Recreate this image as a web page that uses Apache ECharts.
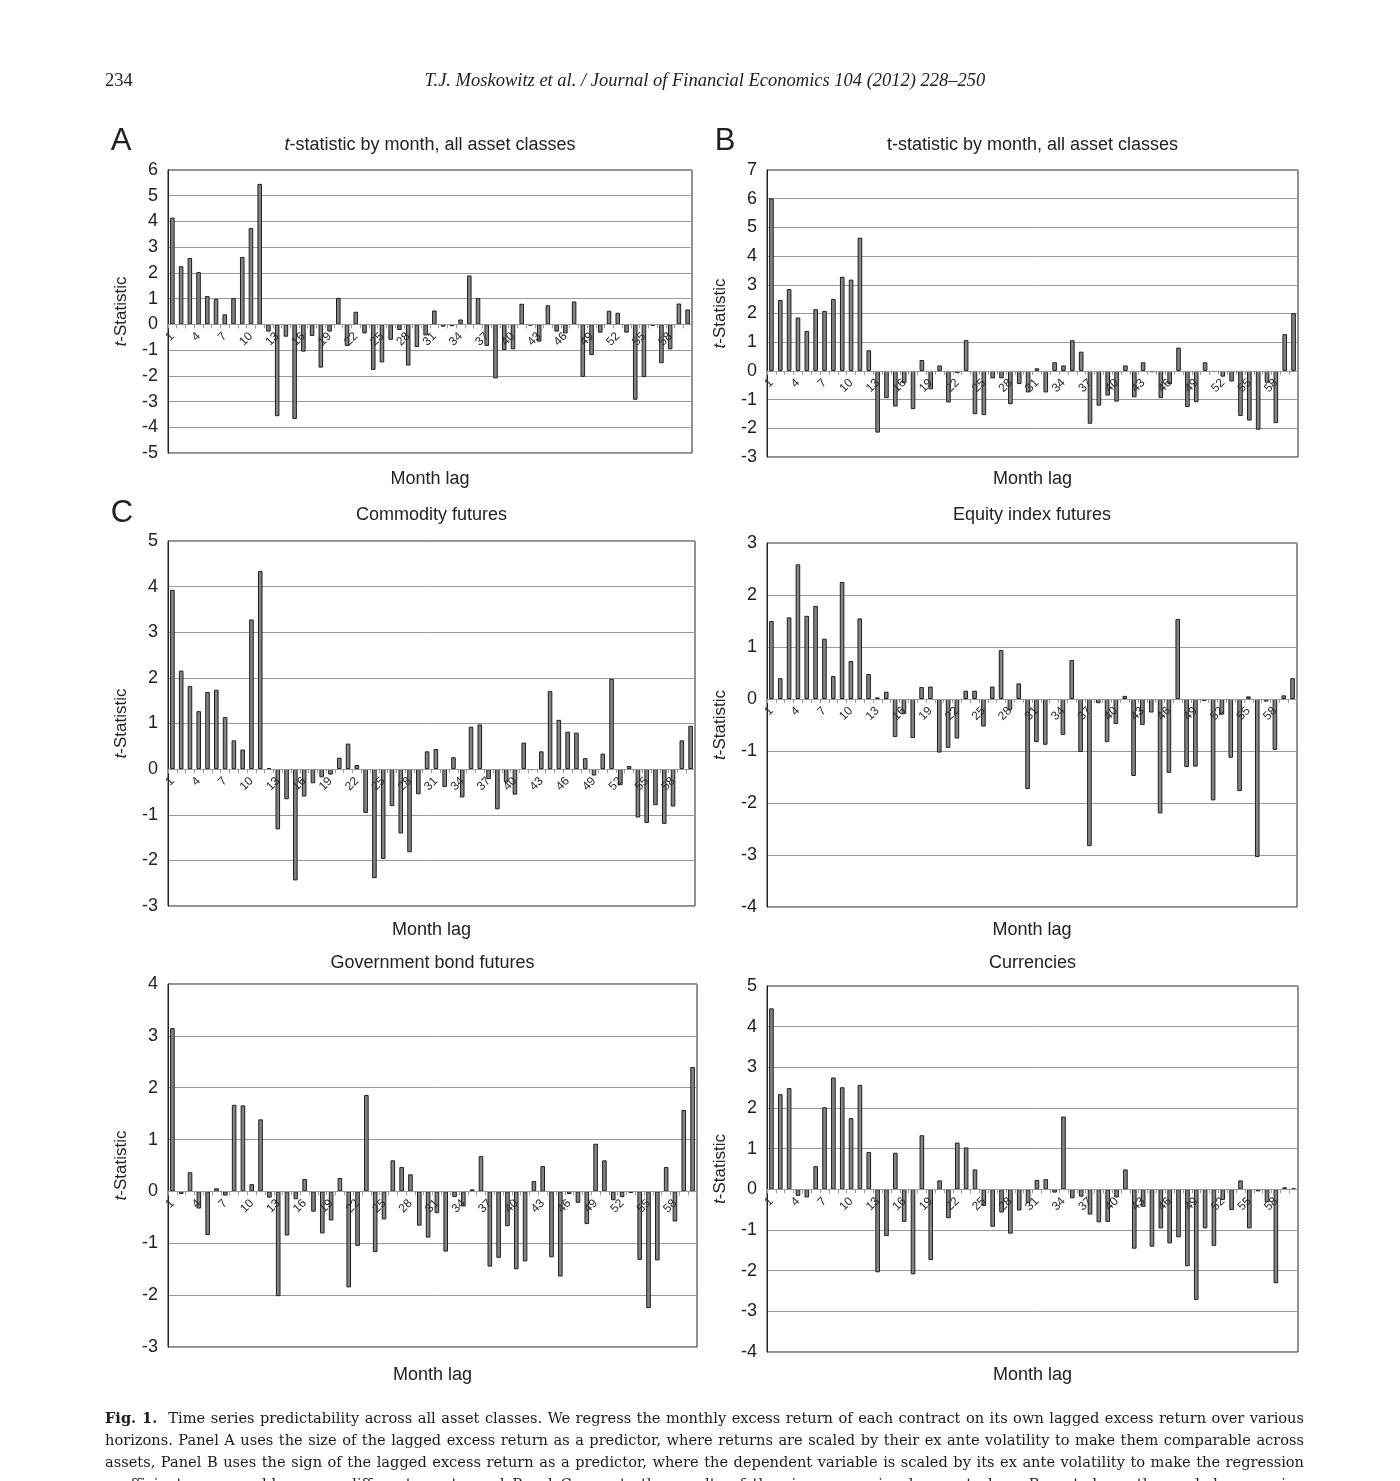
<!DOCTYPE html>
<html>
<head>
<meta charset="utf-8">
<script src="https://cdn.jsdelivr.net/npm/echarts@6/dist/echarts.min.js"></script>
<style>
  html, body { margin: 0; padding: 0; background: #fff; }
  body { width: 1400px; height: 1481px; overflow: hidden; position: relative; }
  #chart { position: absolute; left: 0; top: 0; width: 1400px; height: 1481px; }
  .hdr { position: absolute; top: 70px; font: 18.5px "Liberation Serif", serif; color: #222; }
  .caption { position: absolute; left: 105px; top: 1407px; width: 1199px;
    font: 14.6px "DejaVu Serif", serif; color: #1a1a1a; line-height: 22px; }
  .caption div { text-align: justify; text-align-last: justify; white-space: nowrap; }
</style>
</head>
<body>
<div id="chart"></div>
<div class="hdr" style="left:105px">234</div>
<div class="hdr" style="left:0;width:1410px;text-align:center;font-style:italic">T.J. Moskowitz et al. / Journal of Financial Economics 104 (2012) 228–250</div>
<div class="caption">
  <div><b>Fig. 1.</b>&nbsp; Time series predictability across all asset classes. We regress the monthly excess return of each contract on its own lagged excess return over various</div>
  <div>horizons. Panel A uses the size of the lagged excess return as a predictor, where returns are scaled by their ex ante volatility to make them comparable across</div>
  <div>assets, Panel B uses the sign of the lagged excess return as a predictor, where the dependent variable is scaled by its ex ante volatility to make the regression</div>
  <div>coefficients comparable across different assets, and Panel C reports the results of the sign regression by asset class. Reported are the pooled regression</div>
</div>
<script>
// month lags 1..60
const months = ['1','2','3','4','5','6','7','8','9','10','11','12','13','14','15','16','17','18','19','20',
  '21','22','23','24','25','26','27','28','29','30','31','32','33','34','35','36','37','38','39','40',
  '41','42','43','44','45','46','47','48','49','50','51','52','53','54','55','56','57','58','59','60'];

// Panel A: size of lagged return
const allSize = [4.15, 2.26, 2.58, 2.03, 1.10, 0.99, 0.39, 1.02, 2.62, 3.74, 5.46, -0.28,
  -3.57, -0.48, -3.68, -1.06, -0.45, -1.68, -0.28, 1.03, -0.84, 0.49, -0.35, -1.77,
  -1.48, -0.6, -0.22, -1.6, -0.88, -0.43, 0.54, -0.09, -0.07, 0.19, 1.9, 1.02,
  -0.84, -2.1, -1.0, -0.97, 0.8, -0.05, -0.67, 0.74, -0.28, -0.35, 0.89, -2.04,
  -1.19, -0.32, 0.53, 0.45, -0.32, -2.93, -2.05, -0.06, -1.51, -0.97, 0.81, 0.58];

// Panel B: sign of lagged return
const allSign = [6.01, 2.47, 2.85, 1.86, 1.39, 2.15, 2.09, 2.51, 3.28, 3.18, 4.64, 0.72,
  -2.15, -0.95, -1.24, -0.43, -1.33, 0.38, -0.64, 0.19, -1.1, -0.08, 1.07, -1.51,
  -1.54, -0.26, -0.26, -1.16, -0.46, -0.75, 0.09, -0.75, 0.3, 0.19, 1.07, 0.67,
  -1.84, -1.21, -0.86, -1.07, 0.19, -0.92, 0.3, -0.05, -0.95, -0.46, 0.81, -1.26,
  -1.09, 0.3, -0.04, -0.2, -0.37, -1.57, -1.73, -2.05, -0.41, -1.82, 1.28, 2.01];

// Panel C by asset class
const commodity = [3.93, 2.16, 1.82, 1.27, 1.69, 1.74, 1.14, 0.63, 0.43, 3.28, 4.34, 0.02,
  -1.32, -0.66, -2.44, -0.6, -0.31, -0.18, -0.12, 0.25, 0.56, 0.09, -0.96, -2.39,
  -1.97, -0.81, -1.41, -1.82, -0.55, 0.39, 0.44, -0.39, 0.26, -0.62, 0.93, 0.98,
  -0.22, -0.88, -0.29, -0.56, 0.58, -0.02, 0.39, 1.71, 1.08, 0.82, 0.8, 0.24,
  -0.14, 0.34, 1.98, -0.35, 0.07, -1.06, -1.18, -0.79, -1.2, -0.82, 0.63, 0.95];

const equity = [1.5, 0.4, 1.57, 2.59, 1.6, 1.79, 1.16, 0.44, 2.25, 0.73, 1.55, 0.48,
  0.03, 0.14, -0.73, -0.29, -0.75, 0.23, 0.24, -1.03, -0.94, -0.76, 0.16, 0.16,
  -0.53, 0.24, 0.94, -0.21, 0.3, -1.73, -0.83, -0.88, -0.02, -0.69, 0.75, -1.02,
  -2.83, -0.08, -0.83, -0.48, 0.06, -1.48, -0.5, -0.26, -2.2, -1.42, 1.54, -1.31,
  -1.3, -0.04, -1.95, -0.3, -1.13, -1.77, 0.05, -3.04, -0.05, -0.98, 0.07, 0.4];

const bonds = [3.15, -0.05, 0.37, -0.33, -0.84, 0.06, -0.08, 1.67, 1.66, 0.14, 1.39, -0.12,
  -2.02, -0.85, -0.15, 0.24, -0.39, -0.81, -0.56, 0.26, -1.85, -1.05, 1.86, -1.17,
  -0.54, 0.6, 0.47, 0.33, -0.66, -0.89, -0.42, -1.16, -0.11, -0.29, 0.04, 0.68,
  -1.45, -1.28, -0.67, -1.5, -1.35, 0.2, 0.49, -1.27, -1.64, -0.05, -0.22, -0.63,
  0.92, 0.6, -0.17, -0.11, -0.03, -1.32, -2.25, -1.33, 0.47, -0.58, 1.57, 2.4];

const currencies = [4.45, 2.34, 2.49, -0.16, -0.2, 0.57, 2.02, 2.75, 2.51, 1.75, 2.57, 0.92,
  -2.04, -1.15, 0.9, -0.8, -2.09, 1.33, -1.74, 0.22, -0.71, 1.15, 1.03, 0.49,
  -0.41, -0.92, -0.57, -1.09, -0.52, -0.34, 0.23, 0.25, -0.08, 1.79, -0.22, -0.18,
  -0.62, -0.81, -0.8, -0.2, 0.49, -1.46, -0.43, -1.41, -0.96, -1.33, -1.18, -1.89,
  -2.72, -0.96, -1.39, -0.26, -0.51, 0.22, -0.96, -0.05, -0.32, -2.31, 0.05, 0.02];

const titles = ['{i|t}-statistic by month, all asset classes', 't-statistic by month, all asset classes',
  'Commodity futures', 'Equity index futures', 'Government bond futures', 'Currencies'];
const yMin = [-5, -3, -3, -4, -3, -4];
const yMax = [6, 7, 5, 3, 4, 5];
const seriesData = [allSize, allSign, commodity, equity, bonds, currencies];

// layout (pixels)
const boxes = [
  { left: 168, top: 170, width: 524, height: 283 },
  { left: 767, top: 170, width: 531, height: 287 },
  { left: 168, top: 541, width: 527, height: 365 },
  { left: 767, top: 543, width: 530, height: 364 },
  { left: 168, top: 984, width: 529, height: 363 },
  { left: 767, top: 986, width: 531, height: 366 }
];
const titleY = [145, 145, 515, 515, 963, 963];
const lagY = [479, 479, 930, 930, 1375, 1375];

const FONT = 'Liberation Sans';
const chart = echarts.init(document.getElementById('chart'));

const grids = [], xAxes = [], yAxes = [], series = [], graphics = [];

boxes.forEach(function (b, k) {
  grids.push(Object.assign({ show: true, borderColor: '#222', borderWidth: 1, containLabel: false }, b));
  // lift the category axis from the bottom edge up to the zero line
  const lift = b.height * (0 - yMin[k]) / (yMax[k] - yMin[k]);
  xAxes.push({
    type: 'category', gridIndex: k, data: months, position: 'bottom', offset: -lift,
    zlevel: 1, z: 10,
    axisLine: { onZero: false, lineStyle: { color: '#9a9a9a', width: 1 } },
    axisTick: { show: true, interval: 0, length: 4, lineStyle: { color: '#9a9a9a' } },
    axisLabel: { interval: 2, rotate: 45, fontSize: 12, margin: 10, color: '#2a2a2a',
      fontFamily: FONT, hideOverlap: false },
    splitLine: { show: false }
  });
  yAxes.push({
    type: 'value', gridIndex: k, min: yMin[k], max: yMax[k], interval: 1,
    name: '{i|t}-Statistic', nameLocation: 'middle', nameGap: 38,
    nameTextStyle: { fontSize: 17, color: '#222', fontFamily: FONT,
      rich: { i: { fontStyle: 'italic', fontSize: 17, color: '#222', fontFamily: FONT } } },
    axisLine: { show: true, lineStyle: { color: '#222' } },
    axisTick: { show: false },
    axisLabel: { fontSize: 18, color: '#222', margin: 10, fontFamily: FONT },
    splitLine: { show: true, lineStyle: { color: '#999', width: 1 } }
  });
  series.push({
    type: 'bar', xAxisIndex: k, yAxisIndex: k, data: seriesData[k],
    barWidth: '52%', z: 2,
    itemStyle: { color: '#848484', borderColor: '#1e1e1e', borderWidth: 1 }
  });
  const cx = b.left + b.width / 2;
  graphics.push({
    type: 'text', x: cx, y: titleY[k],
    style: { text: titles[k], fill: '#222', font: '18px ' + FONT, align: 'center', verticalAlign: 'middle',
      textAlign: 'center', textVerticalAlign: 'middle',
      rich: { i: { fontStyle: 'italic', fontSize: 18, fontFamily: FONT, fill: '#222' } } }
  });
  graphics.push({
    type: 'text', x: cx, y: lagY[k],
    style: { text: 'Month lag', fill: '#222', font: '18px ' + FONT, align: 'center', verticalAlign: 'middle',
      textAlign: 'center', textVerticalAlign: 'middle' }
  });
});

[['A', 121, 141], ['B', 725, 141], ['C', 122, 513]].forEach(function (p) {
  graphics.push({
    type: 'text', x: p[1], y: p[2],
    style: { text: p[0], fill: '#222', font: '31px ' + FONT, align: 'center', verticalAlign: 'middle',
      textAlign: 'center', textVerticalAlign: 'middle' }
  });
});

chart.setOption({
  animation: false,
  backgroundColor: 'transparent',
  grid: grids,
  xAxis: xAxes,
  yAxis: yAxes,
  series: series,
  graphic: graphics
});
</script>
</body>
</html>
